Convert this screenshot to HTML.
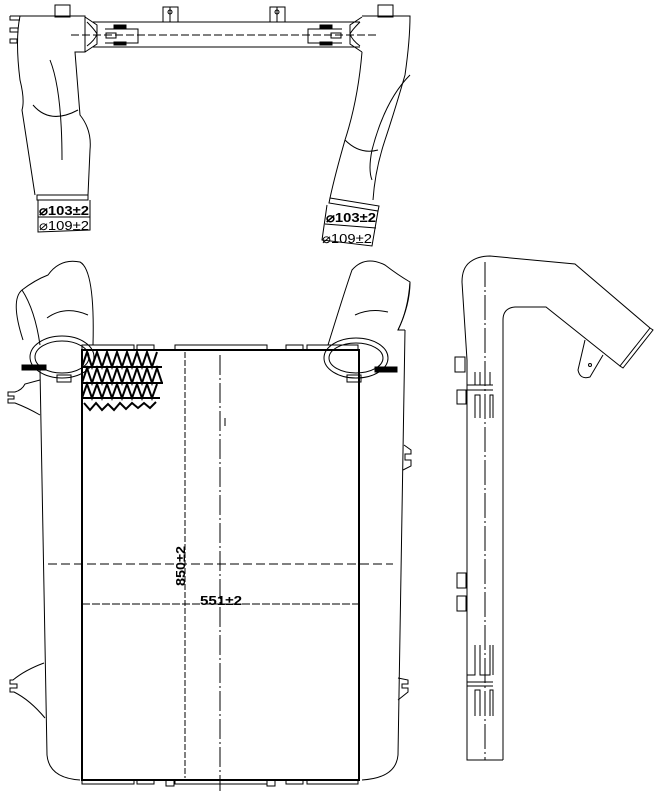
<!DOCTYPE html>
<html><head><meta charset="utf-8">
<style>
html,body{margin:0;padding:0;background:#fff;}
svg{display:block;}
text{font-family:"Liberation Sans",sans-serif;fill:#000;}
</style></head>
<body>
<svg width="656" height="791" viewBox="0 0 656 791" xmlns="http://www.w3.org/2000/svg" fill="none" stroke="#000" stroke-width="1">
<!-- ============ TOP VIEW ============ -->
<line x1="93" y1="22" x2="360" y2="22"/>
<line x1="93" y1="47" x2="360" y2="47"/>
<path d="M85 17 L97 25 L97 44 L85 52"/>
<path d="M362 17 L350 25 L350 44 L362 52"/>
<path d="M87 22 Q95 30 97 34 Q95 40 87 46"/>
<path d="M360 22 Q352 30 350 34 Q352 40 360 46"/>
<line x1="71" y1="35" x2="376" y2="35" stroke-dasharray="8,3"/>
<path d="M105 29 L138 29 L138 43 L105 43"/>
<rect x="106" y="33" width="10" height="5"/>
<rect x="114" y="25" width="12" height="3" fill="#000"/>
<rect x="114" y="42" width="12" height="3" fill="#000"/>
<path d="M342 29 L308 29 L308 43 L342 43"/>
<rect x="331" y="33" width="10" height="5"/>
<rect x="320" y="25" width="12" height="3" fill="#000"/>
<rect x="320" y="42" width="12" height="3" fill="#000"/>
<rect x="163" y="7" width="15" height="15"/>
<line x1="170" y1="7" x2="170" y2="22"/><circle cx="170" cy="12" r="2"/>
<rect x="270" y="7" width="15" height="15"/>
<line x1="277" y1="7" x2="277" y2="22"/><circle cx="277" cy="12" r="2"/>
<rect x="55" y="5" width="15" height="12"/>
<rect x="378" y="5" width="15" height="12"/>
<path d="M10 16 L85 16 L85 52 L75 52 L80 115 Q92 130 90 150 L88 195"/>
<path d="M20 16 Q15 40 20 80 Q25 100 22 110 Q28 150 35 195"/>
<path d="M10 16 L10 20 L20 20"/><path d="M10 28 L18 28 L18 32 L10 32Z"/><path d="M10 39 L17 39 L17 43 L10 43Z"/>
<path d="M50 60 Q62 90 62 160"/>
<path d="M33 105 Q50 125 78 110"/>
<path d="M37 195 L88 195 L88 200 L37 200Z"/>
<path d="M38 200 L38 232 L90 230 L90 200"/>
<line x1="38" y1="217" x2="90" y2="217"/>
<text x="39" y="215" font-size="13" font-weight="bold" stroke="none" textLength="50" lengthAdjust="spacingAndGlyphs">⌀103±2</text>
<text x="39" y="230" font-size="13" stroke="none" textLength="50" lengthAdjust="spacingAndGlyphs">⌀109±2</text>
<path d="M362 16 L410 16 Q410 40 405 75 Q395 110 385 140 Q375 170 373 200"/>
<path d="M362 52 Q358 100 345 140 Q335 175 330 198"/>
<path d="M410 75 Q385 100 372 150 Q368 170 372 180"/>
<path d="M345 140 Q360 155 378 150"/>
<path d="M330 198 L379 206 L378 211 L329 203Z"/>
<path d="M327 205 L322 240 L372 246 L378 211"/>
<line x1="325" y1="224" x2="376" y2="228"/>
<text x="326" y="222" font-size="13" font-weight="bold" stroke="none" textLength="50" lengthAdjust="spacingAndGlyphs">⌀103±2</text>
<text x="322" y="243" font-size="13" stroke="none" textLength="50" lengthAdjust="spacingAndGlyphs">⌀109±2</text>

<!-- ============ FRONT VIEW ============ -->
<path d="M23 340 Q10 300 22 290 Q35 280 48 275 Q60 258 80 262 Q95 270 93 345"/>
<path d="M22 290 Q35 310 40 345"/>
<path d="M47 318 Q65 305 88 315"/>
<ellipse cx="62" cy="357" rx="32" ry="21"/>
<ellipse cx="62" cy="357" rx="27" ry="16"/>
<rect x="57" y="375" width="14" height="7"/>
<rect x="22" y="365" width="24" height="5" fill="#000"/>
<path d="M328 345 Q345 290 352 270 Q365 255 385 265 Q398 275 410 282 Q410 305 398 330 L405 330"/>
<path d="M410 282 Q408 310 398 330"/>
<path d="M355 315 Q370 308 388 312"/>
<ellipse cx="356" cy="358" rx="32" ry="20"/>
<ellipse cx="356" cy="358" rx="27" ry="15"/>
<rect x="347" y="375" width="14" height="7"/>
<rect x="375" y="367" width="22" height="5" fill="#000"/>
<path d="M40 370 L47 755 Q49 778 80 780"/>
<path d="M405 330 L398 755 Q396 778 362 780"/>
<path d="M40 380 L25 384 Q22 390 15 392 L8 392 L8 396 L14 396 L14 399 L8 399 L8 403 L15 403 Q28 408 40 415"/>
<path d="M44 663 Q25 670 13 680 L10 680 L10 684 L17 684 L17 688 L10 688 L10 692 L14 692 Q30 700 45 718"/>
<path d="M404 445 L411 450 L411 454 L405 454 L405 460 L411 460 L411 466 L403 470"/>
<path d="M398 678 L408 680 L408 684 L402 684 L402 688 L408 688 L408 692 L398 700"/>
<path d="M82 350 L82 345 L134 345 L134 350"/><path d="M137 350 L137 345 L154 345 L154 350"/><path d="M175 350 L175 345 L267 345 L267 350"/><path d="M286 350 L286 345 L303 345 L303 350"/><path d="M307 350 L307 345 L358 345 L358 350"/>
<path d="M82 780 L82 784 L134 784 L134 780"/><path d="M137 780 L137 784 L154 784 L154 780"/><path d="M166 780 L166 786 L174 786 L174 780"/><path d="M175 780 L175 784 L267 784 L267 780"/><path d="M267 780 L267 786 L275 786 L275 780"/><path d="M286 780 L286 784 L303 784 L303 780"/><path d="M307 780 L307 784 L358 784 L358 780"/>
<rect x="82" y="350" width="277" height="430" stroke-width="2"/>
<g stroke-width="2">
<polyline points="82,367 87,352 92,367 97,352 102,367 107,352 112,367 117,352 122,367 127,352 132,367 137,352 142,367 147,352 152,367 157,352"/>
<polyline points="82,383 87,368 92,383 97,368 102,383 107,368 112,383 117,368 122,383 127,368 132,383 137,368 142,383 147,368 152,383 157,368 162,383"/>
<polyline points="82,398 87,384 92,398 97,384 102,398 107,384 112,398 117,384 122,398 127,384 132,398 137,384 142,398 147,384 152,398 157,384"/>
<line x1="82" y1="367" x2="162" y2="367"/><line x1="82" y1="383" x2="163" y2="383"/><line x1="82" y1="398" x2="160" y2="398"/>
<polyline points="84,403 90,410 96,403 102,410 108,404 114,410 120,403 126,409 132,403 138,408 144,403 150,408 156,402"/>
</g>
<line x1="48" y1="564" x2="393" y2="564" stroke-dasharray="9,4"/>
<line x1="220" y1="355" x2="220" y2="791" stroke-dasharray="20,3,2,3"/>
<line x1="185" y1="352" x2="185" y2="778" stroke-dasharray="6,2"/>
<line x1="82" y1="604" x2="359" y2="604" stroke-dasharray="8,2"/>
<text x="185" y="566" font-size="13" font-weight="bold" stroke="none" text-anchor="middle" textLength="40" lengthAdjust="spacingAndGlyphs" transform="rotate(-90 185 566)">850±2</text>
<text x="200" y="605" font-size="13" font-weight="bold" stroke="none" textLength="42" lengthAdjust="spacingAndGlyphs">551±2</text>
<line x1="225" y1="418" x2="225" y2="426"/>

<!-- ============ SIDE VIEW ============ -->
<path d="M462 282 Q462 268 470 262 Q478 256 490 256 L575 264 L650 328"/>
<path d="M503 760 L503 320 Q503 308 515 307 L546 307 L620 366"/>
<path d="M462 282 L467 360 L467 760 L503 760"/>
<path d="M650 328 L653 330 L623 368 L620 366Z"/>
<path d="M585 340 L578 370 Q580 380 590 377 L603 355"/>
<circle cx="590" cy="365" r="1.5"/>
<line x1="485" y1="262" x2="485" y2="760" stroke-dasharray="25,3,2,3"/>
<rect x="455" y="357" width="10" height="15"/><rect x="457" y="390" width="9" height="14"/>
<rect x="457" y="573" width="9" height="15"/><rect x="457" y="596" width="9" height="15"/>
<g>
<path d="M467 372 L467 385 L475 385 L475 372 M480 372 L480 385 L490 385 L490 372"/>
<line x1="467" y1="385" x2="493" y2="385"/><line x1="467" y1="390" x2="493" y2="390"/>
<path d="M467 418 L467 390 M475 418 L475 395 L480 395 L480 418 M490 418 L490 395 L493 395 L493 418"/>
<path d="M467 645 L467 675 L475 675 L475 645 M480 645 L480 675 L490 675 L490 645 M493 645 L493 675"/>
<line x1="467" y1="682" x2="493" y2="682"/><line x1="467" y1="686" x2="493" y2="686"/>
<path d="M475 716 L475 690 L480 690 L480 716 M490 716 L490 690 L493 690 L493 716"/>
</g>
</svg>
</body></html>
